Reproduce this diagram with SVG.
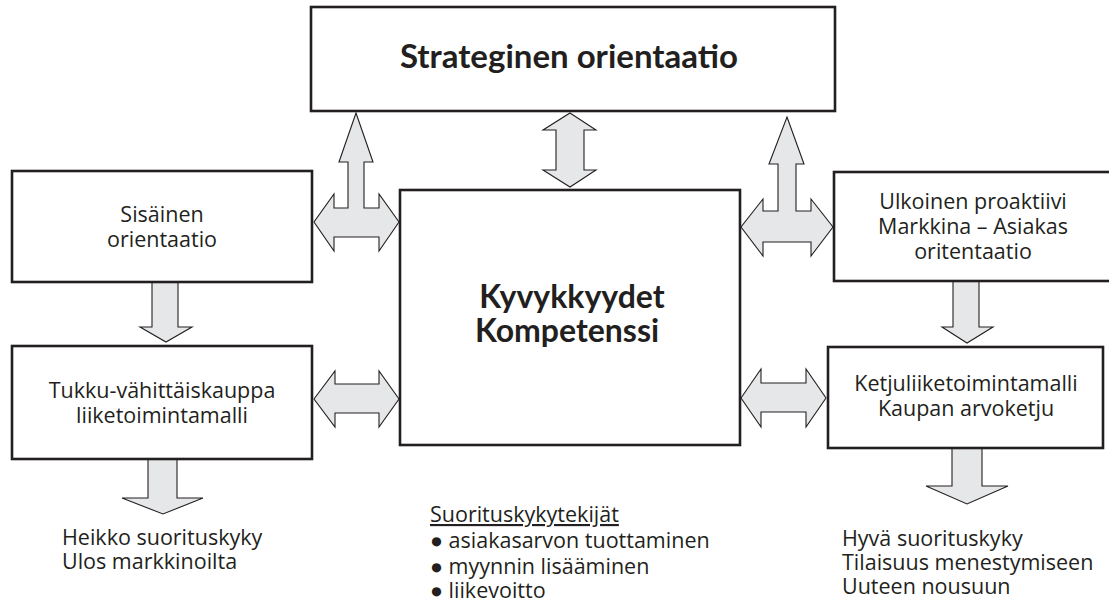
<svg xmlns="http://www.w3.org/2000/svg" width="1109" height="601" viewBox="0 0 1109 601">
<style>
.box{fill:#fff;stroke:#231f20;stroke-width:2.6}
.arr{fill:#e6e7e8;stroke:#231f20;stroke-width:1.1;stroke-linejoin:miter}
.t{font-family:"Open Sans","Noto Sans",sans-serif;font-size:21.5px;fill:#231f20}
.c{text-anchor:middle}
.b{font-family:Lato,"Open Sans",sans-serif;font-weight:bold;fill:#231f20;text-anchor:middle}
</style>
<rect width="1109" height="601" fill="#fff"/>
<g id="connectors">
<polygon class="arr" points="356,113 373,162 364,162 364,208 379,208 379,194 399,222 379,251 379,237 334,237 334,251 314,222 334,194 334,208 348,208 348,162 339,162"/>
<polygon class="arr" points="787,117 804,164 796,164 796,211 811,211 811,199 833,227 811,256 811,242 763,242 763,256 741,227 763,199 763,211 778,211 778,164 769,164"/>
<polygon class="arr" points="570,113 596,130 584,130 584,170 596,170 570,187 543,170 556,170 556,130 543,130"/>
<polygon class="arr" points="152,282 178,282 178,327 192,327 166,342 140,327 152,327"/>
<polygon class="arr" points="953,281 979,281 979,327 993,327 967,343 942,327 953,327"/>
<polygon class="arr" points="314,399 335,371 335,384 379,384 379,371 399,399 379,427 379,413 335,413 335,427"/>
<polygon class="arr" points="741,398 761,369 761,383 806,383 806,369 826,398 806,427 806,412 761,412 761,427"/>
<polygon class="arr" points="148,459 177,459 177,498 203,498 163,514 122,498 148,498"/>
<polygon class="arr" points="952,448 982,448 982,486 1008,486 967,504 926,486 952,486"/>
</g>
<g id="strateginen">
<rect class="box" x="311" y="7" width="524" height="104"/>
<text class="b" x="569" y="68" font-size="33">Strateginen orientaatio</text>
</g>
<g id="sisainen">
<rect class="box" x="12" y="171" width="300" height="111"/>
<text class="t c" x="162" y="222">Sisäinen</text>
<text class="t c" x="162" y="247">orientaatio</text>
</g>
<g id="kyvykkyydet">
<rect class="box" x="400" y="190" width="340" height="255"/>
<text class="b" x="572" y="308" font-size="32">Kyvykkyydet</text>
<text class="b" x="567" y="342" font-size="32">Kompetenssi</text>
</g>
<g id="ulkoinen">
<rect class="box" x="834" y="172" width="290" height="109"/>
<text class="t c" x="973" y="209">Ulkoinen proaktiivi</text>
<text class="t c" x="973" y="234">Markkina – Asiakas</text>
<text class="t c" x="973" y="259">oritentaatio</text>
</g>
<g id="tukku">
<rect class="box" x="12" y="346" width="300" height="113"/>
<text class="t c" x="162" y="398">Tukku-vähittäiskauppa</text>
<text class="t c" x="162" y="423">liiketoimintamalli</text>
</g>
<g id="ketju">
<rect class="box" x="828" y="347" width="275" height="101"/>
<text class="t c" x="966" y="391">Ketjuliiketoimintamalli</text>
<text class="t c" x="966" y="416">Kaupan arvoketju</text>
</g>
<g id="heikko">
<text class="t" x="62" y="545">Heikko suorituskyky</text>
<text class="t" x="62" y="569">Ulos markkinoilta</text>
</g>
<g id="suorituskykytekijat">
<text class="t" x="430" y="522" text-decoration="underline">Suorituskykytekijät</text>
<text class="t" x="430" y="548">● asiakasarvon tuottaminen</text>
<text class="t" x="430" y="574">● myynnin lisääminen</text>
<text class="t" x="430" y="598">● liikevoitto</text>
</g>
<g id="hyva">
<text class="t" x="842" y="546">Hyvä suorituskyky</text>
<text class="t" x="842" y="570">Tilaisuus menestymiseen</text>
<text class="t" x="842" y="594">Uuteen nousuun</text>
</g>
</svg>
